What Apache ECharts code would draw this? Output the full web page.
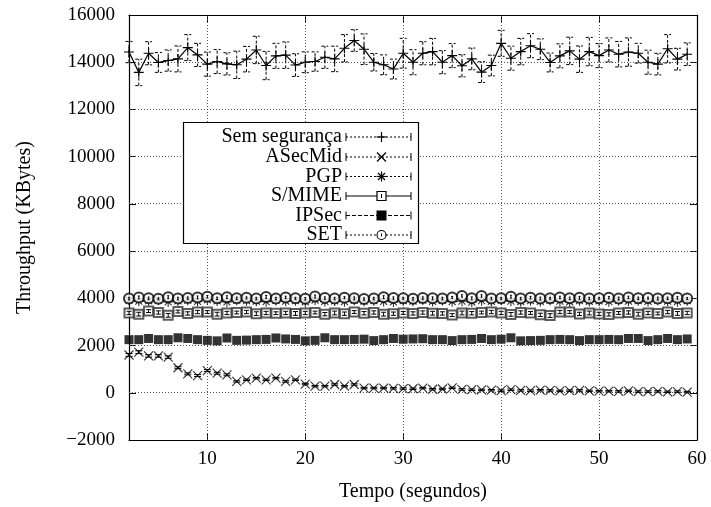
<!DOCTYPE html>
<html>
<head>
<meta charset="utf-8">
<script src="https://cdn.jsdelivr.net/npm/echarts@6/dist/echarts.min.js"></script>
<style>html,body{margin:0;padding:0;background:#fff}#c{width:711px;height:507px}</style>
</head>
<body>
<div id="c"></div>
<script>
const FONT = 'Liberation Serif';
const seriesNames = ['Sem segurança','ASecMid','PGP','S/MIME','IPSec','SET'];
const xTicks = [10,20,30,40,50,60];
const xGrid = [10,20,30,40,50];
const yGrid = [0,2000,4000,6000,8000,10000,12000,14000];
const xs = [2,3,4,5,6,7,8,9,10,11,12,13,14,15,16,17,18,19,20,21,22,23,24,25,26,27,28,29,30,31,
  32,33,34,35,36,37,38,39,40,41,42,43,44,45,46,47,48,49,50,51,52,53,54,55,56,57,58,59];
const semSeg = [14430,13570,14380,13990,14070,14140,14620,14310,13920,14030,
  13930,13890,14130,14520,13860,14270,14300,13880,14000,14030,
  14210,14140,14590,14920,14550,14000,13890,13710,14380,14000,
  14380,14450,14000,14280,13850,14140,13580,13860,14800,14170,
  14450,14700,14550,13990,14270,14480,14130,14450,14280,14520,
  14340,14430,14380,14000,13920,14570,14130,14340];
const semSegErr = [450,560,490,420,450,550,550,490,510,510,
  470,580,540,580,600,530,560,480,440,410,
  470,540,580,460,650,370,420,420,630,530,
  490,560,490,510,470,460,440,440,550,510,
  560,510,440,400,510,580,560,600,510,510,
  540,600,420,510,460,600,460,480];
const asecMid = [1600,1720,1560,1560,1510,1060,800,730,940,830,
  760,480,550,620,550,620,480,550,370,280,
  280,350,280,350,200,200,200,190,180,170,
  200,150,160,210,140,130,120,110,90,130,
  100,90,110,100,80,90,100,80,70,70,
  60,80,50,50,60,40,50,30];
const asecMidErr = [60,60,50,50,50,40,40,40,40,40,
  40,30,30,30,30,30,30,30,30,30,
  30,30,30,30,30,30,30,30,30,30,
  30,30,30,30,30,30,30,30,30,30,
  30,30,30,30,30,30,30,30,30,30,
  30,30,30,30,30,30,30,30];
const pgp = [3930,3880,3900,3930,3850,3890,3920,3870,3940,3890,
  3850,3920,3900,3880,3860,3910,3880,3900,3850,3930,
  3870,3890,3860,3920,3880,3900,3870,3850,3900,3880,
  3930,3870,3910,3860,3880,3840,3900,3870,3930,3880,
  3860,3900,3870,3920,3880,3850,3900,3870,3890,3860,
  3910,3880,3900,3870,3920,3880,3860,3900];
const smime = [3380,3330,3460,3400,3280,3440,3360,3420,3420,3330,
  3380,3400,3420,3350,3380,3370,3380,3360,3380,3400,
  3330,3380,3350,3420,3370,3400,3330,3350,3380,3360,
  3400,3370,3360,3290,3380,3370,3400,3420,3380,3320,
  3400,3380,3300,3270,3420,3420,3340,3380,3340,3320,
  3380,3400,3330,3380,3360,3420,3360,3380];
const smimeErr = [70,80,60,70,80,60,70,70,60,80,
  70,60,70,80,70,60,70,80,70,60,
  70,80,70,60,70,70,80,70,60,70,
  70,80,70,60,80,70,60,70,70,80,
  70,60,70,80,70,60,70,80,70,70,
  60,70,80,70,60,70,80,70];
const ipsec = [2250,2250,2300,2250,2250,2330,2300,2250,2220,2200,
  2320,2220,2230,2250,2260,2320,2280,2260,2200,2220,
  2330,2250,2250,2260,2270,2210,2250,2300,2270,2280,
  2290,2250,2250,2210,2250,2260,2300,2250,2270,2330,
  2200,2210,2220,2250,2260,2250,2210,2250,2250,2260,
  2250,2300,2300,2210,2250,2300,2250,2280];
const setv = [3990,4040,4000,3980,4050,3990,4010,4040,4070,4000,
  4050,4000,4020,3990,4060,3990,4040,4000,3980,4080,
  4010,3990,4030,4000,3970,3990,4050,4010,4000,3980,
  4010,4000,3990,4040,4100,4000,4100,3990,4000,4070,
  3990,4030,3990,4000,4040,4000,4020,3990,4000,4030,
  3990,4040,4000,4010,3990,4000,4020,3990];
const setErr = [50,60,50,40,60,50,50,60,50,50,
  60,50,40,50,60,50,50,40,50,60,
  50,50,40,60,50,50,60,50,40,50,
  50,60,50,40,50,60,50,50,40,60,
  50,50,60,40,50,50,60,50,40,50,
  60,50,50,40,60,50,50,40];

const pts = v => xs.map((x, i) => [x, v[i]]);
const errPts = (v, e) => xs.map((x, i) => [x, v[i] - e[i], v[i] + e[i]]);

function errRender(capW, dash, lw) {
  return function (params, api) {
    const x = api.value(0);
    const lo = api.coord([x, api.value(1)]);
    const hi = api.coord([x, api.value(2)]);
    const style = { stroke: '#000', lineWidth: lw, lineDash: dash, fill: null };
    return { type: 'group', children: [
      { type: 'line', shape: { x1: lo[0], y1: lo[1], x2: hi[0], y2: hi[1] }, style: style },
      { type: 'line', shape: { x1: lo[0] - capW, y1: lo[1], x2: lo[0] + capW, y2: lo[1] }, style: style },
      { type: 'line', shape: { x1: hi[0] - capW, y1: hi[1], x2: hi[0] + capW, y2: hi[1] }, style: style }
    ]};
  };
}
function errSeries(v, e, capW, dash, lw) {
  return { type: 'custom', renderItem: errRender(capW, dash, lw), data: errPts(v, e),
    encode: { x: 0, y: [1, 2] }, z: 4, silent: true, clip: false };
}
// Dotted grid lines at the tick values, drawn through the axes' scales
const crisp = v => Math.round(v - 0.5) + 0.5;
function gridSeries(vals, horizontal) {
  return { type: 'custom', silent: true, z: 2, clip: false,
    data: vals.map(v => horizontal ? [2, v, 60, v] : [v, -2000, v, 16000]),
    encode: { x: [0, 2], y: [1, 3] },
    renderItem: function (params, api) {
      const a = api.coord([api.value(0), api.value(1)]);
      const b = api.coord([api.value(2), api.value(3)]);
      const shape = horizontal
        ? { x1: a[0], y1: crisp(a[1]), x2: b[0], y2: crisp(b[1]) }
        : { x1: crisp(a[0]), y1: a[1], x2: crisp(b[0]), y2: b[1] };
      return { type: 'group', children: [
        { type: 'line', shape: shape, style: { stroke: '#555', lineWidth: 1, lineDash: [1, 2], fill: null } }
      ] };
    } };
}

const PLUS = 'path://M5,0L5,10M0,5L10,5';
const CROSS = 'path://M0,0L10,10M10,0L0,10';
const STAR = 'path://M5,0L5,10M0,5L10,5M1.5,1.5L8.5,8.5M8.5,1.5L1.5,8.5';

const stroke = { color: '#000', borderColor: '#000', borderWidth: 1.1 };

// Legend drawn with graphic elements
const legendRows = [137, 157, 176.5, 196, 215.5, 235];
const legendDash = [[2,2],[2,2],[2,2],null,[4,2],[2,2]];
const L0 = 346, L1 = 411, LM = 381.5;
const graphics = [
  { type: 'rect', shape: { x: 183.5, y: 122.5, width: 235, height: 121 },
    style: { fill: '#fff', stroke: '#000', lineWidth: 1.2 }, z: 100 }
];
function lg(x1, y1, x2, y2, dash, lw) {
  return { type: 'line', shape: { x1, y1, x2, y2 }, style: { stroke: '#000', lineWidth: lw || 1, lineDash: dash || null }, z: 101 };
}
seriesNames.forEach((name, i) => {
  const y = legendRows[i];
  graphics.push({ type: 'text', x: 342, y: y, style: { text: name, font: '20px "' + FONT + '"', fill: '#000', align: 'right', verticalAlign: 'middle' }, z: 101 });
  graphics.push(lg(L0, y, L1, y, legendDash[i]));
  graphics.push(lg(L0, y - 4, L0, y + 4));
  graphics.push(lg(L1, y - 4, L1, y + 4));
  const m = LM;
  if (i === 0) { graphics.push(lg(m - 5, y, m + 5, y, null, 1.2)); graphics.push(lg(m, y - 5, m, y + 5, null, 1.2)); }
  if (i === 1) { graphics.push(lg(m - 4.5, y - 4.5, m + 4.5, y + 4.5, null, 1.2)); graphics.push(lg(m + 4.5, y - 4.5, m - 4.5, y + 4.5, null, 1.2)); }
  if (i === 2) { graphics.push(lg(m - 5, y, m + 5, y, null, 1.2)); graphics.push(lg(m, y - 5, m, y + 5, null, 1.2));
    graphics.push(lg(m - 3.5, y - 3.5, m + 3.5, y + 3.5, null, 1.2)); graphics.push(lg(m + 3.5, y - 3.5, m - 3.5, y + 3.5, null, 1.2)); }
  if (i === 3) { graphics.push({ type: 'rect', shape: { x: m - 4.5, y: y - 4.5, width: 9, height: 9 }, style: { fill: '#fff', stroke: '#000', lineWidth: 1.2 }, z: 101 });
    graphics.push(lg(m, y - 2, m, y + 2)); }
  if (i === 4) { graphics.push({ type: 'rect', shape: { x: m - 5, y: y - 5, width: 10, height: 10 }, style: { fill: '#000' }, z: 101 }); }
  if (i === 5) { graphics.push({ type: 'circle', shape: { cx: m, cy: y, r: 4.5 }, style: { fill: '#fff', stroke: '#000', lineWidth: 1.1 }, z: 101 });
    graphics.push(lg(m, y - 1.5, m, y + 1.5)); }
});

const chart = echarts.init(document.getElementById('c'), null, { renderer: 'canvas' });
const axisLbl = { fontFamily: FONT, fontSize: 19, color: '#000' };
chart.setOption({
  animation: false,
  backgroundColor: '#fff',
  grid: { left: 129, right: 14, top: 15, bottom: 66, containLabel: false },
  xAxis: [
    { type: 'value', min: 2, max: 60, position: 'bottom',
      name: 'Tempo (segundos)', nameLocation: 'middle', nameGap: 42,
      nameTextStyle: { fontFamily: FONT, fontSize: 20, color: '#000' },
      axisLine: { show: true, onZero: false, lineStyle: { color: '#000', width: 1.2 } },
      axisTick: { show: true, inside: true, length: 7, customValues: xTicks, lineStyle: { color: '#000' } },
      axisLabel: Object.assign({ customValues: xTicks, margin: 10 }, axisLbl),
      splitLine: { show: false } },
    { type: 'value', min: 2, max: 60, position: 'top',
      axisLine: { show: true, onZero: false, lineStyle: { color: '#000', width: 1.2 } },
      axisTick: { show: true, inside: true, length: 7, customValues: xTicks, lineStyle: { color: '#000' } },
      axisLabel: { show: false }, splitLine: { show: false } }
  ],
  yAxis: [
    { type: 'value', min: -2000, max: 16000, interval: 2000, position: 'left',
      name: 'Throughput (KBytes)', nameLocation: 'middle', nameGap: 94, nameRotate: 90,
      nameTextStyle: { fontFamily: FONT, fontSize: 20, color: '#000' },
      axisLine: { show: true, onZero: false, lineStyle: { color: '#000', width: 1.2 } },
      axisTick: { show: true, inside: true, length: 7, lineStyle: { color: '#000' } },
      axisLabel: Object.assign({ margin: 14, formatter: v => v < 0 ? '\u2212' + Math.abs(v) : String(v) }, axisLbl),
      splitLine: { show: false } },
    { type: 'value', min: -2000, max: 16000, interval: 2000, position: 'right',
      axisLine: { show: true, onZero: false, lineStyle: { color: '#000', width: 1.2 } },
      axisTick: { show: true, inside: true, length: 7, lineStyle: { color: '#000' } },
      axisLabel: { show: false }, splitLine: { show: false } }
  ],
  graphic: graphics,
  series: [
    gridSeries(yGrid, true),
    gridSeries(xGrid, false),
    errSeries(semSeg, semSegErr, 3.5, [3, 2], 1),
    { name: seriesNames[0], type: 'line', data: pts(semSeg), symbol: PLUS, symbolSize: 10,
      showAllSymbol: true, lineStyle: { color: '#000', width: 1.2 }, itemStyle: stroke, z: 3, silent: true },
    errSeries(asecMid, asecMidErr, 3.5, null, 1),
    { name: seriesNames[1], type: 'scatter', data: pts(asecMid), symbol: CROSS, symbolSize: 9, itemStyle: stroke, z: 3, silent: true },
    { name: seriesNames[2], type: 'scatter', data: pts(pgp), symbol: STAR, symbolSize: 10, itemStyle: stroke, z: 3, silent: true },
    { name: seriesNames[5], type: 'scatter', data: pts(setv), symbol: 'emptyCircle', symbolSize: 10,
      itemStyle: { color: '#000', borderColor: '#000', borderWidth: 1.1 }, z: 3, silent: true },
    errSeries(setv, setErr, 1, null, 1),
    { name: seriesNames[3], type: 'scatter', data: pts(smime), symbol: 'emptyRect', symbolSize: 9,
      itemStyle: { color: '#333', borderColor: '#333', borderWidth: 1.4 }, z: 3, silent: true },
    errSeries(smime, smimeErr, 2.5, null, 1),
    { name: seriesNames[4], type: 'scatter', data: pts(ipsec), symbol: 'rect', symbolSize: 9,
      itemStyle: { color: '#000' }, z: 3, silent: true }
  ]
});
</script>
</body>
</html>
